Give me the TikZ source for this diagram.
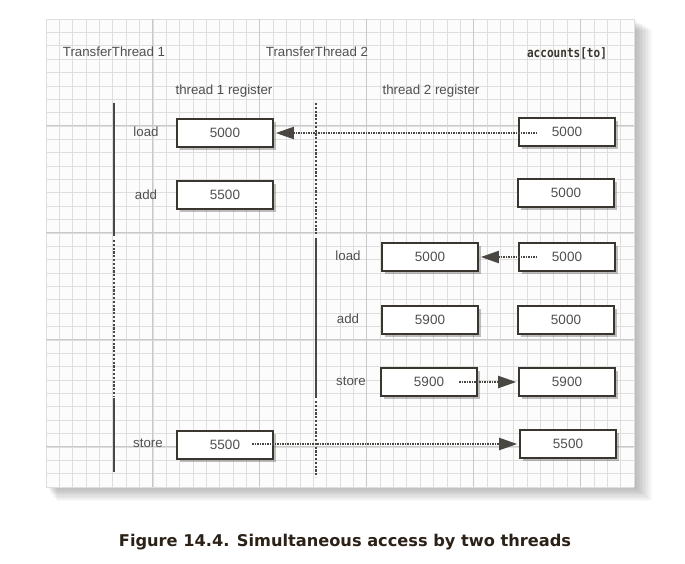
\documentclass[tikz,border=0pt]{standalone}
\usepackage{fontspec}
\setmainfont{Liberation Sans}
\newfontfamily\capfont{DejaVu Sans}
\newfontfamily\monofont{DejaVu Sans Mono}
\usetikzlibrary{arrows.meta,shadows,calc}
\definecolor{gridminor}{HTML}{DEDEDE}
\definecolor{gridmajor}{HTML}{C9C9C9}
\definecolor{boxc}{HTML}{3A362F}
\definecolor{txt}{HTML}{505050}
\definecolor{linec}{HTML}{4A4742}
\definecolor{capc}{HTML}{2B2117}
\definecolor{paper}{HTML}{FCFCFC}
\tikzset{
  minorline/.style={gridminor, line width=0.7pt},
  majorline/.style={gridmajor, line width=1pt},
  reg/.style={draw=boxc, line width=1.6pt, fill=white, minimum width=96pt, minimum height=28pt,
    inner sep=0pt, text=txt, font=\fontsize{13.5}{16}\selectfont,
    drop shadow={shadow xshift=2.5pt, shadow yshift=-2.5pt, opacity=0.35, fill=black!70}},
  lbl/.style={text=txt, font=\fontsize{13.3}{16}\selectfont, inner sep=0pt},
  lifesolid/.style={linec, line width=2pt},
  lifedash/.style={linec, line width=2.2pt, dash pattern=on 2.2pt off 1.6pt},
  flow/.style={linec, line width=2pt, dash pattern=on 1.5pt off 1pt,
    -{Triangle[length=18pt,width=12pt,sep=2pt]}},
}
\begin{document}
\begin{tikzpicture}[x=1pt,y=-1pt]
\useasboundingbox (0,0) rectangle (685,563);
\fill[white] (0,0) rectangle (685,563);
% panel shadow
\foreach \k in {1,...,12}{
  \fill[black, opacity=0.025] ({46+\k*0.9},{19+\k*0.9}) rectangle ({634+\k*1.5},{487+\k*1.2});
}
\fill[paper] (46,19) rectangle (634,487);
% grid
\foreach \i in {0,...,44}{
  \draw[minorline] ({46+\i*13.3636},19) -- ({46+\i*13.3636},487);
}
\foreach \j in {0,...,35}{
  \draw[minorline] (46,{19+\j*13.3714}) -- (634,{19+\j*13.3714});
}
\foreach \i in {1,...,5}{
  \draw[majorline] ({46+\i*106.909},19) -- ({46+\i*106.909},487);
}
\foreach \j in {1,...,4}{
  \draw[majorline] (46,{19+\j*106.971}) -- (634,{19+\j*106.971});
}
% headings
\node[lbl] (h1) at (114,52) {TransferThread 1};
\node[lbl] (h2) at (317,52) {TransferThread 2};
\node[text=boxc, inner sep=0pt, font=\monofont\bfseries\fontsize{13}{15}\selectfont] (h3) at (567,53) {\scalebox{0.85}[1]{accounts[to]}};
\node[lbl] (r1h) at (224,91) {thread 1 register};
\node[lbl] (r2h) at (431,91) {thread 2 register};
% lifelines
\coordinate (t1a) at (114,103);
\coordinate (t1b) at (114,236);
\coordinate (t1c) at (114,396);
\coordinate (t1d) at (114,472);
\coordinate (t2a) at (316,103);
\coordinate (t2b) at (316,236);
\coordinate (t2c) at (316,398);
\coordinate (t2d) at (316,477);
\draw[lifesolid] (t1a) -- (t1b);
\draw[lifedash] ($(t1b)+(0,4)$) -- (t1c);
\draw[lifesolid] ($(t1c)+(0,2)$) -- (t1d);
\draw[lifedash] (t2a) -- (t2b);
\draw[lifesolid] ($(t2b)+(0,2)$) -- (t2c);
\draw[lifedash] ($(t2c)+(0,3)$) -- (t2d);
% step labels
\node[lbl] (l1) at (146,132) {load};
\node[lbl] (l2) at (146,195) {add};
\node[lbl] (l3) at (348,256) {load};
\node[lbl] (l4) at (348,319) {add};
\node[lbl] (l5) at (351,381) {store};
\node[lbl] (l6) at (148,443) {store};
% boxes
\node[reg] (a1) at (225,133) {5000};
\node[reg] (a2) at (225,195) {5500};
\node[reg] (a6) at (225,445) {5500};
\node[reg] (b3) at (430,257) {5000};
\node[reg] (b4) at (430,320) {5900};
\node[reg] (b5) at (429,382) {5900};
\node[reg] (c1) at (567,132) {5000};
\node[reg] (c2) at (566,193) {5000};
\node[reg] (c3) at (567,257) {5000};
\node[reg] (c4) at (566,320) {5000};
\node[reg] (c5) at (567,382) {5900};
\node[reg] (c6) at (568,444) {5500};
% arrows
\coordinate (s1) at (537,133);
\coordinate (s3) at (537,257);
\coordinate (s5) at (459,382);
\coordinate (s6) at (252,444);
\draw[flow] (s1) -- (a1.east |- s1);
\draw[flow] (s3) -- (b3.east |- s3);
\draw[flow] (s5) -- (c5.west |- s5);
\draw[flow] (s6) -- (c6.west |- s6);
% caption
\node[text=capc, inner sep=0pt, font=\capfont\bfseries\fontsize{16.2}{20}\selectfont] (cap) at (345,542) {Figure 14.4. Simultaneous access by two threads};
\end{tikzpicture}
\end{document}
